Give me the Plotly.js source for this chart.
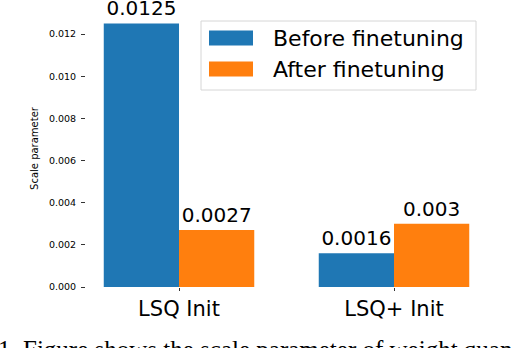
<!DOCTYPE html>
<html>
<head>
<meta charset="utf-8">
<script src="https://cdn.plot.ly/plotly-3.0.1.min.js"></script>
<style>
  html, body { margin: 0; padding: 0; background: #fff; }
  #graph { width: 512px; height: 348px; }
</style>
</head>
<body>
<div id="graph"></div>
<script>
const categories = ['LSQ Init', 'LSQ+ Init'];
const beforeValues = [0.0125, 0.0016];
const afterValues = [0.0027, 0.003];
const seriesNames = ['Before finetuning', 'After finetuning'];
const seriesColors = ['#1f77b4', '#ff7f0e'];
const yTicks = [0, 0.002, 0.004, 0.006, 0.008, 0.010, 0.012];
const caption = '1. Figure shows the scale parameter of weight quan';

// plot area in pixels
const W = 512, H = 348;
const M = { l: 86, r: 28, t: 10, b: 61 };
const pw = W - M.l - M.r, ph = H - M.t - M.b;
const px = x => (x - M.l) / pw;
const py = y => (H - M.b - y) / ph;

const font = 'DejaVu Sans, sans-serif';

const data = [beforeValues, afterValues].map((vals, i) => ({
    type: 'bar',
    x: categories,
    y: vals,
    name: seriesNames[i],
    marker: { color: seriesColors[i], line: { width: 0 } },
    text: vals.map(v => String(v)),
    textposition: 'outside',
    textfont: { family: font, size: 20, color: '#000' },
    constraintext: 'none',
    cliponaxis: false,
    hoverinfo: 'none'
}));

// legend drawn by hand so the swatches get matplotlib's wide shape
const shapes = [{
    type: 'rect', xref: 'paper', yref: 'paper',
    x0: px(201), x1: px(476), y0: py(90), y1: py(21),
    fillcolor: 'rgba(255,255,255,0.9)',
    line: { color: '#d6d6d6', width: 1 }
}];
const annotations = [];
seriesNames.forEach((name, i) => {
    const cy = 38 + i * 31;
    shapes.push({
        type: 'rect', xref: 'paper', yref: 'paper',
        x0: px(209), x1: px(253), y0: py(cy + 7.5), y1: py(cy - 7.5),
        fillcolor: seriesColors[i], line: { width: 0 }
    });
    annotations.push({
        xref: 'paper', yref: 'paper', x: px(271), y: py(cy),
        xanchor: 'left', yanchor: 'middle', showarrow: false,
        text: name, font: { family: font, size: 22, color: '#000' }
    });
});
// caption of the paper figure, cut by the bottom edge
annotations.push({
    xref: 'paper', yref: 'paper', x: px(-4), y: py(349),
    xanchor: 'left', yanchor: 'middle', showarrow: false,
    text: caption, font: { family: 'Liberation Serif, serif', size: 25, color: '#000' }
});

Plotly.newPlot('graph', data, {
    width: W, height: H,
    margin: M,
    barmode: 'group',
    bargap: 0.3,
    bargroupgap: 0,
    showlegend: false,
    paper_bgcolor: '#fff',
    plot_bgcolor: '#fff',
    font: { family: font, color: '#000' },
    xaxis: {
        range: [-0.4326, 1.4186],
        showgrid: false, zeroline: false, showline: false,
        ticks: 'outside', ticklen: 3, tickcolor: '#333',
        tickfont: { family: font, size: 21, color: '#000' }
    },
    yaxis: {
        range: [0, 0.01314],
        showgrid: false, zeroline: false, showline: false,
        tickvals: yTicks, tickformat: '.3f',
        ticks: 'outside', ticklen: 4, tickcolor: '#333',
        ticklabelstandoff: 3,
        tickfont: { family: font, size: 9.5, color: '#000' },
        title: { text: 'Scale parameter', font: { family: font, size: 10, color: '#000' }, standoff: 8 }
    },
    shapes: shapes,
    annotations: annotations
}, { staticPlot: true });
</script>
</body>
</html>
